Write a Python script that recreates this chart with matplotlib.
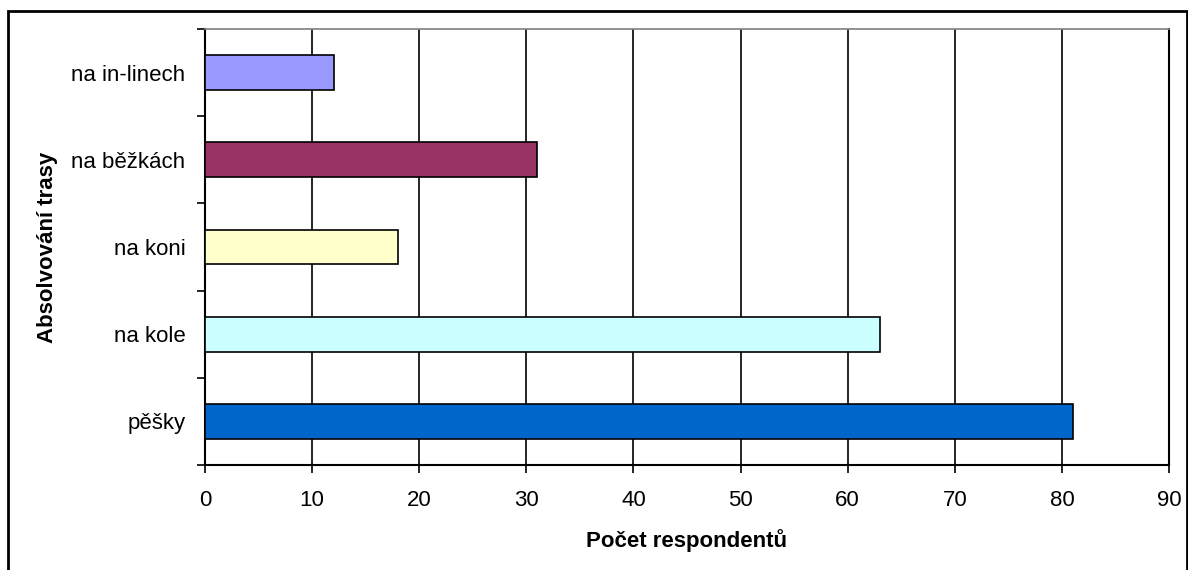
import matplotlib
matplotlib.use("Agg")
import matplotlib.pyplot as plt
from matplotlib.patches import Rectangle

plt.rcParams['font.family'] = ['Liberation Sans', 'DejaVu Sans']

categories = ["pěšky", "na kole", "na koni", "na běžkách", "na in-linech"]
values = [81, 63, 18, 31, 12]
colors = ["#0066CC", "#CCFFFF", "#FFFFCC", "#993366", "#9999FF"]
x_ticks = [0, 10, 20, 30, 40, 50, 60, 70, 80, 90]

fig = plt.figure(figsize=(11.88, 5.70), dpi=100)
ax = fig.add_axes([205 / 1188, 1 - 465 / 570, (1169 - 205) / 1188, (465 - 29) / 570])

# Outer chart frame
fig.patches.append(Rectangle((8 / 1188, -0.05), (1186.5 - 8) / 1188, 1.05 - 11 / 570,
                             transform=fig.transFigure, fill=False,
                             edgecolor="black", linewidth=2.0, zorder=0))

ypos = list(range(len(categories)))
ax.barh(ypos, values, height=0.4, color=colors, edgecolor="black",
        linewidth=1.2, zorder=3)

ax.set_xlim(0, 90)
ax.set_ylim(-0.5, len(categories) - 0.5)
ax.set_xticks(x_ticks)
ax.set_xticklabels([str(t) for t in x_ticks], fontsize=16)
ax.xaxis.grid(True, color="black", linewidth=1.2, zorder=1)
ax.set_axisbelow(True)

# Category labels in the middle, tick marks on the boundaries
ax.set_yticks(ypos)
ax.set_yticklabels(categories, fontsize=16)
ax.tick_params(axis="y", which="major", length=0, pad=14)
ax.set_yticks([i - 0.5 for i in range(len(categories) + 1)], minor=True)
ax.tick_params(axis="y", which="minor", length=6, width=1.2, direction="out")
ax.tick_params(axis="x", length=6, width=1.2, direction="out", pad=12)

for side in ("left", "bottom"):
    ax.spines[side].set_color("black")
    ax.spines[side].set_linewidth(1.5)
ax.spines["top"].set_color("#808080")
ax.spines["top"].set_linewidth(1.2)
ax.spines["right"].set_color("black")
ax.spines["right"].set_linewidth(1.5)

ax.set_xlabel("Počet respondentů", fontsize=16, fontweight="bold", labelpad=13)
ax.set_ylabel("Absolvování trasy", fontsize=16, fontweight="bold", labelpad=10)

fig.savefig("out.png", dpi=100)
